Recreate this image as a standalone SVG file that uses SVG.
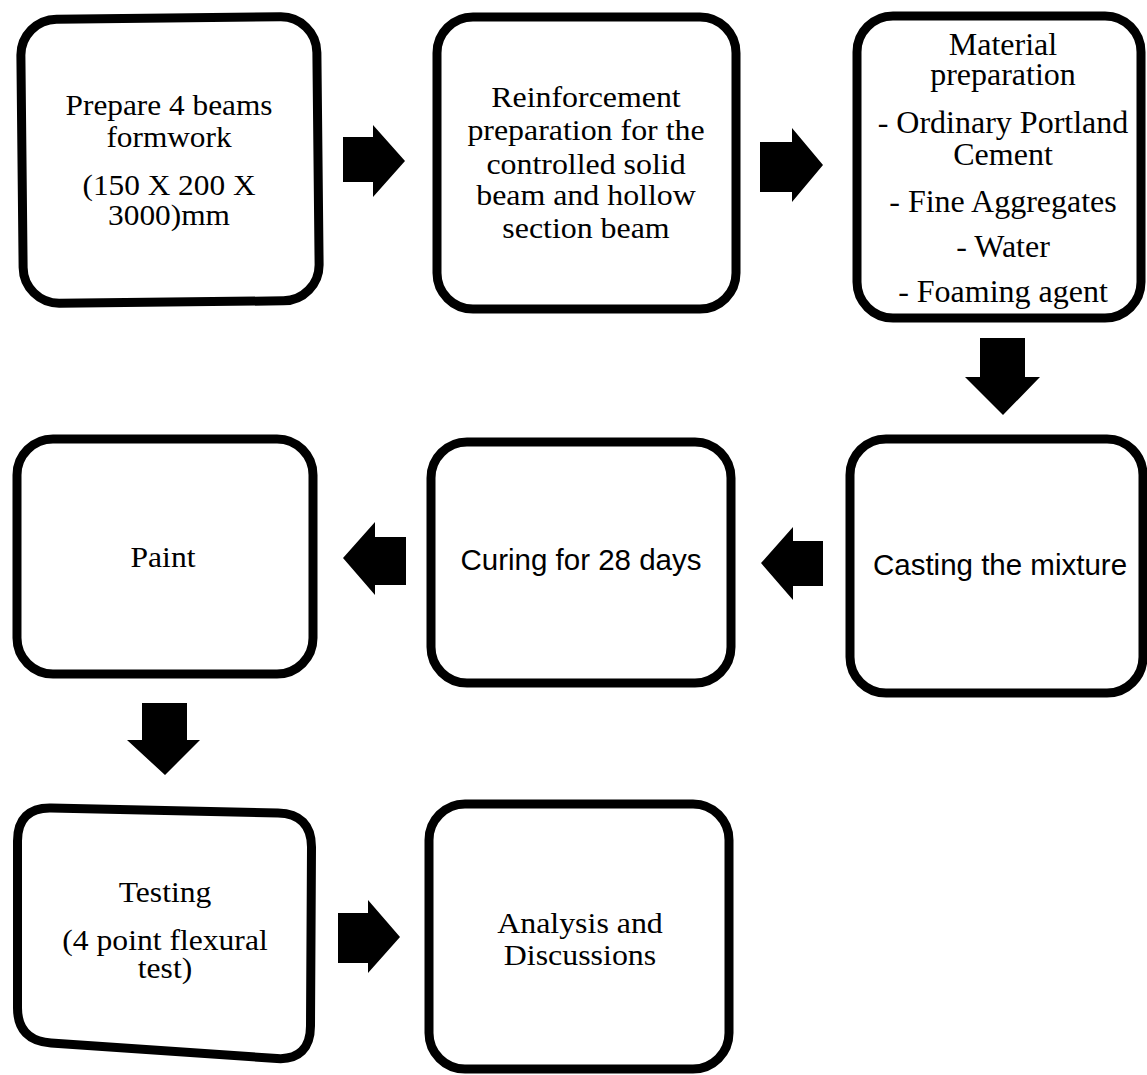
<svg xmlns="http://www.w3.org/2000/svg" width="1147" height="1075" viewBox="0 0 1147 1075">
<style>
.box{fill:#fff;stroke:#000;stroke-width:9}
.serif{font-family:"Liberation Serif","Times New Roman",serif;fill:#000;text-anchor:middle}
.sans{font-family:"Liberation Sans",Arial,sans-serif;fill:#000;text-anchor:middle;font-size:29.5px}
.arrow{fill:#000}
</style>
<rect width="1147" height="1075" fill="#fff"/>
<g id="n1">
<rect class="box" x="22" y="18" width="296" height="284" rx="36" transform="rotate(-0.6 170 160)"/>
<g transform="matrix(1.08 0 0 1 169 0)" class="serif" font-size="29">
<text x="0" y="115">Prepare 4 beams</text>
<text x="0" y="147">formwork</text>
<text x="0" y="195">(150 X 200 X</text>
<text x="0" y="225">3000)mm</text>
</g>
</g>
<g id="n2">
<rect class="box" x="437" y="17" width="299" height="292" rx="36"/>
<g transform="matrix(1.1 0 0 1 586 0)" class="serif" font-size="29">
<text x="0" y="107">Reinforcement</text>
<text x="0" y="140">preparation for the</text>
<text x="0" y="174">controlled solid</text>
<text x="0" y="205">beam and hollow</text>
<text x="0" y="238">section beam</text>
</g>
</g>
<g id="n3">
<rect class="box" x="857" y="16" width="284" height="302" rx="36"/>
<g class="serif" font-size="32">
<text x="1003" y="55">Material</text>
<text x="1003" y="85">preparation</text>
<text x="1003" y="133">- Ordinary Portland</text>
<text x="1003" y="165">Cement</text>
<text x="1003" y="212">- Fine Aggregates</text>
<text x="1003" y="257">- Water</text>
<text x="1003" y="302">- Foaming agent</text>
</g>
</g>
<g id="n4">
<rect class="box" x="850" y="439" width="293" height="254" rx="36"/>
<text class="sans" x="1000" y="575">Casting the mixture</text>
</g>
<g id="n5">
<rect class="box" x="431" y="442" width="300" height="241" rx="36"/>
<text class="sans" x="581" y="570">Curing for 28 days</text>
</g>
<g id="n6">
<rect class="box" x="17" y="439" width="296" height="235" rx="36"/>
<g transform="matrix(1.09 0 0 1 163 0)" class="serif" font-size="29">
<text x="0" y="567">Paint</text>
</g>
</g>
<g id="n7">
<path class="box" d="M51,808 L278,813 C300,813.5 311.5,825 311.5,847 L310.5,1026 C310.5,1048 299,1060 277,1058.5 L51,1043 C29,1041.5 17.5,1030 17.5,1008 L17.5,841 C17.5,819 29,807.5 51,808 Z"/>
<g transform="matrix(1.09 0 0 1 165 0)" class="serif" font-size="29">
<text x="0" y="902">Testing</text>
<text x="0" y="950">(4 point flexural</text>
<text x="0" y="978">test)</text>
</g>
</g>
<g id="n8">
<rect class="box" x="429" y="804" width="300" height="265" rx="36"/>
<g transform="matrix(1.1 0 0 1 580 0)" class="serif" font-size="29">
<text x="0" y="933">Analysis and</text>
<text x="0" y="965">Discussions</text>
</g>
</g>
<g id="connectors">
<polygon class="arrow" points="343,137 373,137 373,125 405,161 373,197 373,182 343,182"/>
<polygon class="arrow" points="760,142 792,142 792,128 823,165 792,202 792,192 760,192"/>
<polygon class="arrow" points="980,338 1025,338 1025,377 1040,377 1003,415 965,377 980,377"/>
<polygon class="arrow" points="823,541 793,541 793,527 761,563 793,600 793,586 823,586"/>
<polygon class="arrow" points="406,537 375,537 375,522 343,558 375,595 375,585 406,585"/>
<polygon class="arrow" points="142,703 187,703 187,740 200,740 165,775 127,740 142,740"/>
<polygon class="arrow" points="338,913 368,913 368,900 400,937 368,973 368,963 338,963"/>
</g>
</svg>
